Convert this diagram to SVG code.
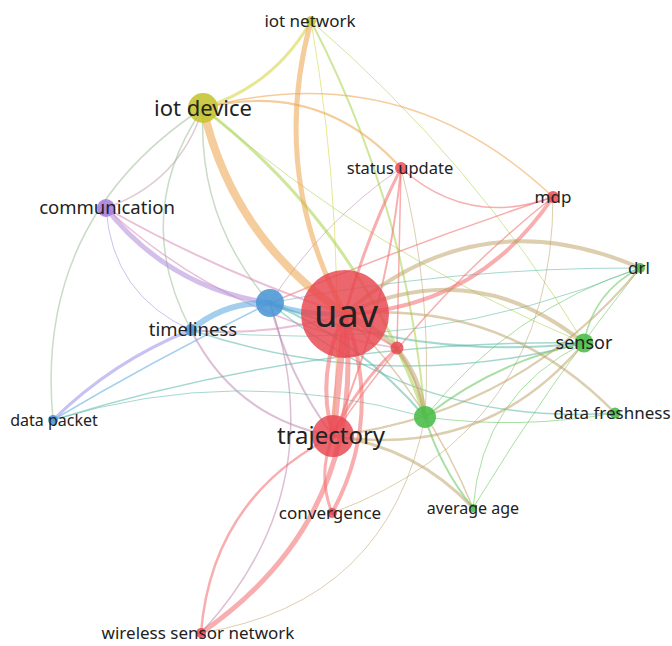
<svg xmlns="http://www.w3.org/2000/svg" width="672" height="646" viewBox="0 0 672 646">
  <style>
    .e { fill: none; stroke-linecap: round; stroke-opacity: 0.55; }
    .rr { stroke: #f26b6b; }
    .ry { stroke: #eda24a; }
    .yy { stroke: #d4d43a; }
    .rg { stroke: #bfa66c; }
    .gg { stroke: #62c55a; }
    .bb { stroke: #5aa5e0; }
    .rb { stroke: #c08ab0; }
    .gb { stroke: #5ab8a8; }
    .yg { stroke: #a8d24a; }
    .pr { stroke: #d88ab8; }
    .pb { stroke: #9a90e8; }
    .py { stroke: #c8a0b0; }
    .yb { stroke: #9cc098; }
    .pp { stroke: #b08ad8; }
    .nr { fill: #e8444e; fill-opacity: 0.82; }
    .ng { fill: #48bd48; fill-opacity: 0.88; }
    .nb { fill: #4a96d6; fill-opacity: 0.88; }
    .ny { fill: #c4c42e; fill-opacity: 0.88; }
    .np { fill: #a97ddc; fill-opacity: 0.88; }
    text { font-family: "Noto Sans", "Open Sans", sans-serif; fill: #222; text-anchor: middle; }
  </style>

  <g id="edges">
    <!-- thin links -->
    <path class="e pr" stroke-width="1.5" d="M106,208 Q230,322 397,348"/>
    <path class="e pb" stroke-width="1" d="M106,208 Q112,295 191,330"/>
    <path class="e py" stroke-width="1.5" d="M106,208 Q180,182 203,108"/>
    <path class="e yb" stroke-width="1.5" d="M203,108 Q34,219 53,420"/>
    <path class="e bb" stroke-width="1.5" d="M270,303 Q159,357 53,420"/>
    <path class="e gb" stroke-width="1.5" d="M584,343 Q312,339 53,420"/>
    <path class="e gb" stroke-width="1" d="M425,417 Q238,363 53,420"/>
    <path class="e rb" stroke-width="1.5" d="M201,633 Q334,489 270,303"/>
    <path class="e yb" stroke-width="1.5" d="M203,108 Q130,215 191,330"/>
    <path class="e yb" stroke-width="1.5" d="M203,108 Q197,219 270,303"/>
    <path class="e gb" stroke-width="1.5" d="M191,330 Q385,395 584,343"/>
    <path class="e gb" stroke-width="1.5" d="M270,303 Q420,427 615,413"/>
    <path class="e yy" stroke-width="1" d="M333,436 Q347,227 311,21"/>
    <path class="e yg" stroke-width="1" d="M584,343 Q473,160 311,21"/>
    <path class="e yg" stroke-width="1" d="M203,108 Q375,256 584,343"/>
    <path class="e ry" stroke-width="1.5" d="M553,197 Q403,55 203,108"/>
    <path class="e rb" stroke-width="1" d="M401,168 Q322,222 270,303"/>
    <path class="e rr" stroke-width="1.5" d="M401,168 Q399,258 397,348"/>
    <path class="e rg" stroke-width="1" d="M425,417 Q433,291 401,168"/>
    <path class="e rr" stroke-width="1.5" d="M401,168 Q468,228 553,197"/>
    <path class="e rr" stroke-width="1.5" d="M553,197 Q410,244 270,303"/>
    <path class="e rg" stroke-width="1" d="M332,513 Q553,432 553,197"/>
    <path class="e gg" stroke-width="1" d="M640,268 Q510,310 425,417"/>
    <path class="e gg" stroke-width="1" d="M425,417 Q520,430 615,413"/>
    <path class="e gg" stroke-width="1" d="M584,343 Q482,394 473,508"/>
    <path class="e gg" stroke-width="1.5" d="M640,268 Q593,292 584,343"/>
    <path class="e gg" stroke-width="1" d="M640,268 Q549,383 473,508"/>
    <path class="e gb" stroke-width="1" d="M640,268 Q453,267 270,303"/>
    <path class="e gb" stroke-width="1" d="M191,330 Q424,357 640,268"/>
    <path class="e rg" stroke-width="1" d="M201,633 Q389,603 425,417"/>
    <path class="e rr" stroke-width="1.5" d="M553,197 Q424,299 333,436"/>
    <path class="e rg" stroke-width="1.5" d="M473,508 Q428,398 345,314"/>

    <!-- medium links -->
    <path class="e pr" stroke-width="2" d="M106,208 Q220,273 345,314"/>
    <path class="e pr" stroke-width="2" d="M191,330 Q270,337 345,314"/>
    <path class="e rb" stroke-width="2" d="M191,330 Q235,418 333,436"/>
    <path class="e rb" stroke-width="2" d="M270,303 Q288,376 333,436"/>
    <path class="e gb" stroke-width="2" d="M270,303 Q422,361 584,343"/>
    <path class="e gb" stroke-width="2" d="M425,417 Q361,341 270,303"/>
    <path class="e yg" stroke-width="2" d="M425,417 Q408,208 311,21"/>
    <path class="e ry" stroke-width="2" d="M401,168 Q320,79 203,108"/>
    <path class="e rr" stroke-width="2" d="M333,436 Q388,307 401,168"/>
    <path class="e gg" stroke-width="2" d="M584,343 Q496,361 425,417"/>
    <path class="e gg" stroke-width="2" d="M425,417 Q440,467 473,508"/>
    <path class="e rg" stroke-width="2" d="M333,436 Q520,413 640,268"/>
    <path class="e rr" stroke-width="2" d="M397,348 Q374,336 345,314"/>
    <path class="e rg" stroke-width="2" d="M397,348 Q418,378 425,417"/>
    <path class="e rg" stroke-width="2.5" d="M615,413 Q504,299 345,314"/>
    <path class="e rg" stroke-width="2.5" d="M333,436 Q485,460 584,343"/>
    <path class="e rr" stroke-width="2.5" d="M333,436 Q212,498 201,633"/>

    <!-- strong links -->
    <path class="e yy" stroke-width="3" d="M203,108 Q274,86 311,21"/>
    <path class="e pb" stroke-width="3" d="M191,330 Q113,361 53,420"/>
    <path class="e yg" stroke-width="3" d="M425,417 Q360,229 203,108"/>
    <path class="e rr" stroke-width="3" d="M401,168 Q366,238 345,314"/>
    <path class="e rg" stroke-width="3" d="M473,508 Q416,447 333,436"/>
    <path class="e rr" stroke-width="3" d="M397,348 Q356,386 333,436"/>
    <path class="e rr" stroke-width="3" d="M333,436 Q317,474 332,513"/>
    <path class="e rr" stroke-width="4" d="M332,513 Q384,417 345,314"/>
    <path class="e rr" stroke-width="4" d="M345,314 Q478,308 553,197"/>
    <path class="e rg" stroke-width="4" d="M640,268 Q478,197 345,314"/>
    <path class="e rg" stroke-width="4" d="M584,343 Q474,254 345,314"/>
    <path class="e rr" stroke-width="4" d="M345,314 Q315,373 333,436"/>
    <path class="e rr" stroke-width="5" d="M201,633 Q369,517 345,314"/>
    <path class="e rg" stroke-width="5" d="M425,417 Q416,342 345,314"/>
    <path class="e pp" stroke-width="5" d="M106,208 Q169,288 270,303"/>
    <path class="e ry" stroke-width="5" d="M311,21 Q269,174 345,314"/>
    <path class="e bb" stroke-width="5" d="M270,303 Q306,316 345,314"/>
    <path class="e bb" stroke-width="6" d="M270,303 Q225,301 191,330"/>
    <path class="e rr" stroke-width="7" d="M333,436 Q339,375 345,314"/>
    <path class="e ry" stroke-width="8" d="M203,108 Q233,239 345,314"/>
  </g>

  <g id="nodes">
    <g id="n-uav"><circle class="nr" cx="345" cy="314" r="44"/><text x="346" y="327" font-size="38">uav</text></g>
    <g id="n-trajectory"><circle class="nr" cx="333" cy="436" r="21"/><text x="331" y="444" font-size="24">trajectory</text></g>
    <g id="n-iot-device"><circle class="ny" cx="203" cy="108" r="15"/><text x="203" y="116" font-size="22">iot device</text></g>
    <g id="n-cluster-blue"><circle class="nb" cx="270" cy="303" r="14"/></g>
    <g id="n-cluster-green"><circle class="ng" cx="425" cy="417" r="11"/></g>
    <g id="n-sensor"><circle class="ng" cx="584" cy="343" r="9.5"/><text x="584" y="349" font-size="18">sensor</text></g>
    <g id="n-communication"><circle class="np" cx="106" cy="208" r="9"/><text x="107" y="214" font-size="18.5">communication</text></g>
    <g id="n-cluster-red"><circle class="nr" cx="397" cy="348" r="6.5"/></g>
    <g id="n-timeliness"><circle class="nb" cx="191" cy="330" r="6"/><text x="193" y="336" font-size="18.5">timeliness</text></g>
    <g id="n-status-update"><circle class="nr" cx="401" cy="168" r="6"/><text x="400" y="174" font-size="16.5">status update</text></g>
    <g id="n-mdp"><circle class="nr" cx="553" cy="197" r="6"/><text x="553" y="203" font-size="17">mdp</text></g>
    <g id="n-iot-network"><circle class="ny" cx="311" cy="21" r="5"/><text x="310" y="27" font-size="17">iot network</text></g>
    <g id="n-drl"><circle class="ng" cx="640" cy="268" r="5"/><text x="639" y="274" font-size="17">drl</text></g>
    <g id="n-data-freshness"><circle class="ng" cx="615" cy="413" r="5.5"/><text x="612" y="419" font-size="17">data freshness</text></g>
    <g id="n-data-packet"><circle class="nb" cx="53" cy="420" r="5"/><text x="54" y="426" font-size="16">data packet</text></g>
    <g id="n-convergence"><circle class="nr" cx="332" cy="513" r="5"/><text x="330" y="519" font-size="17">convergence</text></g>
    <g id="n-average-age"><circle class="ng" cx="473" cy="508" r="4"/><text x="473" y="514" font-size="16">average age</text></g>
    <g id="n-wireless-sensor-network"><circle class="nr" cx="201" cy="633" r="5"/><text x="198" y="639" font-size="17">wireless sensor network</text></g>
  </g>
</svg>
